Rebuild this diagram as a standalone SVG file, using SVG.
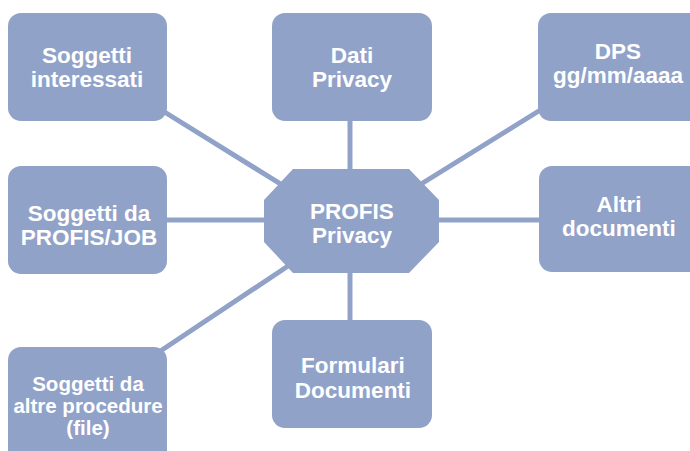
<svg xmlns="http://www.w3.org/2000/svg" width="690" height="451" viewBox="0 0 690 451">
<style>
.box{fill:#91A2C9;}
.ln{stroke:#91A2C9;stroke-width:5;fill:none;}
.t{font-family:"Liberation Sans",Arial,sans-serif;font-weight:bold;font-size:22.5px;fill:#FFFFFF;text-anchor:middle;}
.s{font-size:20.5px;}
</style>
<rect width="690" height="451" fill="#FFFFFF"/>
<g id="connectors">
<line class="ln" x1="150" y1="103" x2="300" y2="196"/>
<line class="ln" x1="350" y1="110" x2="350" y2="180"/>
<line class="ln" x1="550" y1="104" x2="405" y2="194"/>
<line class="ln" x1="160" y1="220" x2="280" y2="220"/>
<line class="ln" x1="430" y1="220" x2="545" y2="220"/>
<line class="ln" x1="350" y1="260" x2="350" y2="330"/>
<line class="ln" x1="150" y1="358" x2="300" y2="258"/>
</g>
<g id="node-soggetti-interessati">
<rect class="box" x="8" y="13" width="159" height="108" rx="13"/>
<text class="t" x="87" y="63">Soggetti</text>
<text class="t" x="87" y="87">interessati</text>
</g>
<g id="node-dati-privacy">
<rect class="box" x="272" y="13" width="160" height="108" rx="13"/>
<text class="t" x="352" y="63">Dati</text>
<text class="t" x="352" y="87">Privacy</text>
</g>
<g id="node-dps">
<rect class="box" x="538" y="13" width="165" height="108" rx="13"/>
<text class="t" x="618" y="59">DPS</text>
<text class="t" x="618" y="83">gg/mm/aaaa</text>
</g>
<g id="node-soggetti-profis">
<rect class="box" x="8" y="166" width="159" height="108" rx="13"/>
<text class="t" x="89" y="221">Soggetti da</text>
<text class="t" x="89" y="245">PROFIS/JOB</text>
</g>
<g id="node-profis-privacy">
<polygon class="box" points="293,169 409,169 439,200 439,242 409,273 293,273 264,242 264,200"/>
<text class="t" x="352" y="219">PROFIS</text>
<text class="t" x="352" y="243">Privacy</text>
</g>
<g id="node-altri-documenti">
<rect class="box" x="539" y="166" width="165" height="106" rx="13"/>
<text class="t" x="619" y="212">Altri</text>
<text class="t" x="619" y="236">documenti</text>
</g>
<g id="node-formulari">
<rect class="box" x="272" y="320" width="160" height="108" rx="13"/>
<text class="t" x="353" y="373">Formulari</text>
<text class="t" x="353" y="398">Documenti</text>
</g>
<g id="node-soggetti-altre">
<rect class="box" x="8" y="347" width="159" height="118" rx="13"/>
<text class="t s" x="88" y="391">Soggetti da</text>
<text class="t s" x="88" y="413">altre procedure</text>
<text class="t s" x="88" y="435">(file)</text>
</g>
</svg>
